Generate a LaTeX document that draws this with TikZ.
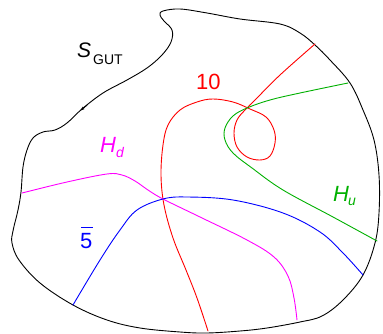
\documentclass[tikz,border=0pt]{standalone}
\usepackage{fontspec}
\setmainfont{Liberation Sans}
\usetikzlibrary{arrows.meta}
\definecolor{cRed}{RGB}{255,0,0}
\definecolor{cGreen}{RGB}{0,176,0}
\definecolor{cMag}{RGB}{255,0,255}
\definecolor{cBlue}{RGB}{0,0,255}
\tikzset{
  curve/.style={line width=0.9pt, line join=round, line cap=round},
  lbl/.style={inner sep=0pt, anchor=base west, font=\fontsize{22}{22}\selectfont},
  sub/.style={inner sep=0pt, anchor=base west, font=\fontsize{14}{14}\selectfont}
}
\begin{document}
\begin{tikzpicture}[x=1pt,y=-1pt]
\useasboundingbox (0,0) rectangle (383,334);
% boundary
\draw[curve, black] plot[smooth cycle, tension=0.6] coordinates {
 (163,11) (180,9) (207,13) (240,19) (280,24) (300,33) (315,45) (330,60) (350,83)
 (363,110) (374,140) (379,175) (379,213) (375,243) (363,275) (343,300) (322,316)
 (300,322) (267,328) (240,331) (207,333) (180,332) (140,328) (107,320) (73,305)
 (40,283) (19,260) (12,243) (13,231) (18,210) (21,192) (23,167) (27,150) (33,138)
 (43,132) (55,130) (67,123) (82,109) (103,93) (127,80) (147,68) (162,55)
 (171,42) (172,30) (164,21) (160,15)};
\draw[-{Stealth[length=5pt,width=3pt]}, line width=0.9pt] (87,105.2) -- (80,110.8);
% red 10
\draw[curve, cRed] plot[smooth, tension=0.6] coordinates {
 (208,331) (197,298) (186,270) (173,238) (164,205) (161,175) (163,145) (168,125)
 (180,110) (197,102) (213,99) (233,102) (250,109) (266,117) (274,130) (275,143)
 (270,156) (260,160) (247,157) (237,147) (234,133) (237,120) (245,110) (256,99)
 (280,75) (315,44)};
% green Hu
\draw[curve, cGreen] plot[smooth, tension=0.6] coordinates {
 (348,83) (300,93) (270,100) (247,108) (233,116) (225,128) (225,140) (233,153)
 (252,168) (283,190) (333,217) (377,241)};
% magenta Hd
\draw[curve, cMag] plot[smooth, tension=0.6] coordinates {
 (22,193) (67,182) (107,174) (122,175) (135,181) (148,190) (163,199) (200,217)
 (247,240) (274,257) (288,276) (294,298) (297,320)};
% blue 5bar
\draw[curve, cBlue] plot[smooth, tension=0.6] coordinates {
 (73,305) (100,260) (120,230) (137,210) (163,199) (187,197) (233,200) (283,213)
 (320,232) (343,253) (363,275)};
% labels
\node[lbl, font=\fontsize{21}{21}\selectfont\itshape] (sS) at (77,58) {S};
\node[sub] (sG) at (93,65) {GUT};
\node[lbl, cRed] (t10) at (196,90) {10};
\node[lbl, cMag, font=\fontsize{22}{22}\selectfont\itshape] (hd) at (100,153) {H};
\node[sub, cMag, font=\fontsize{14}{14}\selectfont\itshape] (hdd) at (116,158) {d};
\node[lbl, cGreen, font=\fontsize{22}{22}\selectfont\itshape] (hu) at (333,201) {H};
\node[sub, cGreen, font=\fontsize{14}{14}\selectfont\itshape] (huu) at (348,205) {u};
\node[lbl, cBlue] (f5) at (80,248) {5};
\draw[cBlue, line width=1.1pt] (81,227.5) -- (92.5,227.5);
\end{tikzpicture}
\end{document}
